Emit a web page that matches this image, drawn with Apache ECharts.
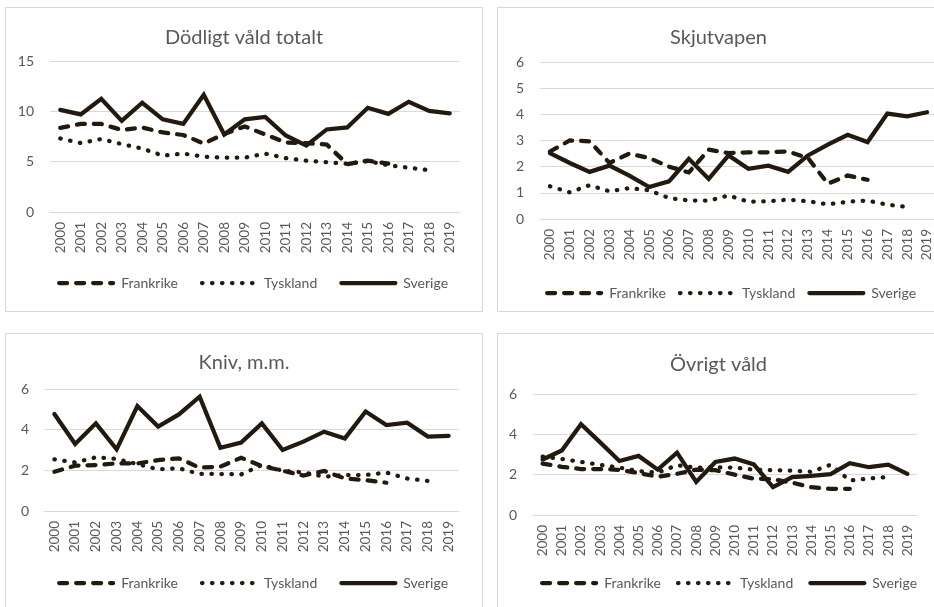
<!DOCTYPE html>
<html>
<head>
<meta charset="utf-8">
<script src="https://cdn.jsdelivr.net/npm/echarts@6/dist/echarts.min.js"></script>
<style>
  html, body { margin: 0; padding: 0; background: #fff; overflow: hidden; }
  body { width: 934px; height: 607px; position: relative; }
  .panel { position: absolute; box-sizing: border-box; border: 1px solid #d9d9d9; background: #fff; }
</style>
</head>
<body>
<div id="c1" class="panel" style="left:5px;top:7px;width:478px;height:305px"></div>
<div id="c2" class="panel" style="left:497px;top:7px;width:443px;height:305px"></div>
<div id="c3" class="panel" style="left:5px;top:333px;width:478px;height:280px"></div>
<div id="c4" class="panel" style="left:497px;top:333px;width:443px;height:280px"></div>
<script>
// år på x-axeln
var years = ['2000','2001','2002','2003','2004','2005','2006','2007','2008','2009',
             '2010','2011','2012','2013','2014','2015','2016','2017','2018','2019'];
var countries = ['Frankrike', 'Tyskland', 'Sverige'];

// Dödligt våld totalt
var dodFr = [8.35, 8.75, 8.75, 8.15, 8.4, 7.9, 7.65, 6.8, 7.75, 8.5, 7.7, 6.9, 6.85, 6.7, 4.75, 5.1, 4.8];
var dodDe = [7.3, 6.85, 7.25, 6.75, 6.3, 5.6, 5.8, 5.5, 5.4, 5.4, 5.8, 5.35, 5.1, 4.95, 4.8, 5.05, 4.65, 4.4, 4.15];
var dodSe = [10.15, 9.7, 11.25, 9.05, 10.85, 9.2, 8.75, 11.65, 7.7, 9.2, 9.45, 7.6, 6.6, 8.2, 8.4, 10.35, 9.75, 10.95, 10.05, 9.8];

// Skjutvapen
var skjFr = [2.58, 3.0, 2.97, 2.14, 2.5, 2.33, 2.0, 1.78, 2.65, 2.52, 2.55, 2.55, 2.58, 2.33, 1.35, 1.66, 1.5];
var skjDe = [1.25, 1.02, 1.29, 1.06, 1.18, 1.1, 0.8, 0.71, 0.7, 0.9, 0.66, 0.68, 0.74, 0.68, 0.56, 0.66, 0.7, 0.55, 0.46];
var skjSe = [2.52, 2.14, 1.8, 2.04, 1.66, 1.22, 1.44, 2.3, 1.53, 2.43, 1.92, 2.04, 1.8, 2.43, 2.84, 3.22, 2.94, 4.03, 3.92, 4.08];

// Kniv, m.m.
var knivFr = [1.93, 2.23, 2.26, 2.34, 2.34, 2.5, 2.59, 2.13, 2.18, 2.62, 2.21, 1.98, 1.74, 1.97, 1.6, 1.52, 1.39];
var knivDe = [2.54, 2.39, 2.64, 2.56, 2.31, 2.05, 2.1, 1.82, 1.82, 1.8, 2.26, 1.98, 1.9, 1.69, 1.77, 1.77, 1.89, 1.6, 1.48];
var knivSe = [4.77, 3.3, 4.31, 3.03, 5.16, 4.15, 4.75, 5.62, 3.11, 3.36, 4.31, 3.0, 3.41, 3.9, 3.57, 4.89, 4.23, 4.34, 3.66, 3.7];

// Övrigt våld
var ovrFr = [2.55, 2.39, 2.28, 2.28, 2.24, 2.08, 1.9, 2.04, 2.25, 2.22, 2.0, 1.8, 1.78, 1.6, 1.38, 1.3, 1.3];
var ovrDe = [2.9, 2.78, 2.63, 2.49, 2.35, 2.18, 2.1, 2.47, 2.35, 2.36, 2.35, 2.25, 2.22, 2.2, 2.14, 2.49, 1.71, 1.81, 1.89];
var ovrSe = [2.75, 3.2, 4.5, 3.6, 2.68, 2.93, 2.25, 3.09, 1.64, 2.63, 2.8, 2.51, 1.38, 1.88, 1.94, 2.03, 2.57, 2.37, 2.5, 2.04];

var lineColor = '#231a0f';
var textColor = '#595959';
var gridColor = '#d9d9d9';
var fontFamily = 'Lato, "Open Sans", sans-serif';
var lineWidth = 4.25;

var lineTypes = [
  { type: [8, 9], cap: 'round' },   // Frankrike
  { type: [0.5, 9.5], cap: 'round' },   // Tyskland
  { type: 'solid', cap: 'round' }   // Sverige
];

function drawPanel(id, cfg) {
  var chart = echarts.init(document.getElementById(id));
  var data = [cfg.fr, cfg.de, cfg.se];
  chart.setOption({
    animation: false,
    textStyle: { fontFamily: fontFamily },
    title: {
      text: cfg.title,
      left: 'center',
      top: cfg.titleTop,
      textStyle: { color: textColor, fontSize: 20, fontWeight: 'normal', fontFamily: fontFamily }
    },
    legend: {
      left: cfg.legendLeft,
      top: cfg.legendTop,
      itemWidth: 54,
      itemHeight: 10,
      itemGap: cfg.legendGap,
      itemStyle: { opacity: 0 },
      textStyle: { color: textColor, fontSize: 14, padding: [0, 0, 0, 3] },
      data: countries.map(function (name, i) {
        return {
          name: name,
          itemStyle: { opacity: 0 },
          lineStyle: { color: lineColor, width: lineWidth, type: lineTypes[i].type, cap: lineTypes[i].cap }
        };
      })
    },
    grid: cfg.grid,
    xAxis: {
      type: 'category',
      data: years,
      boundaryGap: true,
      axisLine: { lineStyle: { color: gridColor } },
      axisTick: { show: false },
      axisLabel: { rotate: 90, color: textColor, fontSize: 13.5, margin: 10, interval: 0 }
    },
    yAxis: {
      type: 'value',
      min: 0,
      max: cfg.max,
      interval: cfg.interval,
      axisLine: { show: false },
      axisTick: { show: false },
      splitLine: { lineStyle: { color: gridColor, width: 1 } },
      axisLabel: { color: textColor, fontSize: 14, margin: cfg.yMargin }
    },
    series: countries.map(function (name, i) {
      return {
        name: name,
        type: 'line',
        data: data[i],
        symbol: 'none',
        itemStyle: { color: lineColor },
        lineStyle: {
          color: lineColor,
          width: lineWidth,
          type: lineTypes[i].type,
          cap: lineTypes[i].cap,
          join: 'miter'
        }
      };
    })
  });
}

drawPanel('c1', {
  title: 'Dödligt våld totalt', titleTop: 15,
  fr: dodFr, de: dodDe, se: dodSe, max: 15, interval: 5, yMargin: 16,
  grid: { left: 44, top: 53, width: 410, height: 151 },
  legendLeft: 46, legendTop: 263, legendGap: 22
});
drawPanel('c2', {
  title: 'Skjutvapen', titleTop: 15,
  fr: skjFr, de: skjDe, se: skjSe, max: 6, interval: 1, yMargin: 16,
  grid: { left: 42, top: 54, width: 397, height: 157 },
  legendLeft: 42, legendTop: 273, legendGap: 12
});
drawPanel('c3', {
  title: 'Kniv, m.m.', titleTop: 14,
  fr: knivFr, de: knivDe, se: knivSe, max: 6, interval: 2, yMargin: 15,
  grid: { left: 38, top: 55, width: 415, height: 122 },
  legendLeft: 46, legendTop: 237, legendGap: 22
});
drawPanel('c4', {
  title: 'Övrigt våld', titleTop: 16,
  fr: ovrFr, de: ovrDe, se: ovrSe, max: 6, interval: 2, yMargin: 16,
  grid: { left: 35, top: 60, width: 384, height: 121 },
  legendLeft: 37, legendTop: 237, legendGap: 15
});
</script>
</body>
</html>
